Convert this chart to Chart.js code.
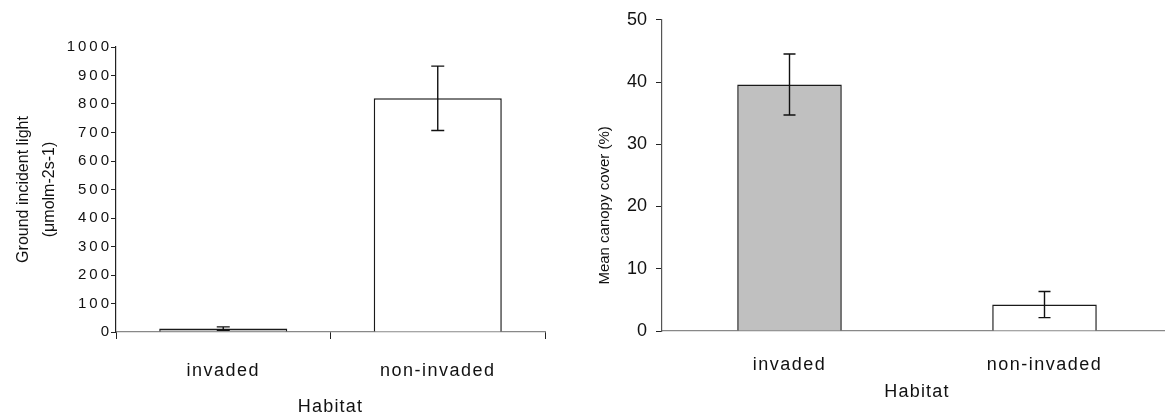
<!DOCTYPE html>
<html>
<head>
<meta charset="utf-8">
<script src="https://cdn.jsdelivr.net/npm/chart.js@4.4.1/dist/chart.umd.min.js"></script>
<style>
  html, body { margin: 0; padding: 0; background: #fff; overflow: hidden; }
  #wrap { position: relative; width: 1165px; height: 417px; overflow: hidden; }
  #lightBox { position: absolute; left: 0; top: 0; width: 565px; height: 417px; }
  #canopyBox { position: absolute; left: 565px; top: 0; width: 612px; height: 417px; }
</style>
</head>
<body>
<div id="wrap">
  <div id="lightBox"><canvas id="lightChart" width="565" height="417"></canvas></div>
  <div id="canopyBox"><canvas id="canopyChart" width="612" height="417"></canvas></div>
</div>
<script>
const habitats = ['invaded', 'non-invaded'];
const lightMean = [12, 820];
const lightErr = [6, 113];
const canopyMean = [39.6, 4.25];
const canopyErr = [4.9, 2.1];
const barFills = ['#c0c0c0', '#ffffff'];

const FONT = '"Liberation Sans", Arial, sans-serif';
Chart.defaults.font.family = FONT;
Chart.defaults.color = '#111';

// error bars drawn on top of the bars, from the scale
const errorBars = {
    id: 'errorBars',
    afterDatasetsDraw(chart, args, opts) {
        const ctx = chart.ctx;
        const y = chart.scales.y;
        const meta = chart.getDatasetMeta(0);
        const vals = chart.data.datasets[0].data;
        ctx.save();
        ctx.strokeStyle = '#111';
        ctx.lineWidth = 1.4;
        meta.data.forEach((bar, i) => {
            const hi = y.getPixelForValue(vals[i] + opts.err[i]);
            const lo = y.getPixelForValue(vals[i] - opts.err[i]);
            const x = bar.x, w = opts.cap;
            ctx.beginPath();
            ctx.moveTo(x, hi); ctx.lineTo(x, lo);
            ctx.moveTo(x - w, hi); ctx.lineTo(x + w, hi);
            ctx.moveTo(x - w, lo); ctx.lineTo(x + w, lo);
            ctx.stroke();
        });
        ctx.restore();
    }
};

// the original sets some of its text wider than plain Arial,
// and its canopy axis title sits a little below centre
function withSpacing(fn, px, dy) {
    return function (area) {
        this.ctx.save();
        this.ctx.letterSpacing = (px || 0) + 'px';
        if (dy) this.ctx.translate(0, dy);
        fn.call(this, area);
        this.ctx.restore();
    };
}
const spacedText = {
    id: 'spacedText',
    beforeDraw(chart, args, opts) {
        Object.keys(opts).forEach(key => {
            if (key.startsWith('_')) return;
            const s = chart.scales[key];
            if (!s || s._spaced) return;
            const o = opts[key];
            if (o.labels) s.drawLabels = withSpacing(s.drawLabels, o.labels, 0);
            if (o.title || o.titleShift) s.drawTitle = withSpacing(s.drawTitle, o.title, o.titleShift);
            s._spaced = true;
        });
    }
};

new Chart(document.getElementById('lightChart'), {
    type: 'bar',
    data: {
        labels: habitats,
        datasets: [{
            data: lightMean,
            backgroundColor: barFills,
            borderColor: '#1a1a1a',
            borderWidth: 1.5,
            categoryPercentage: 1,
            barPercentage: 0.597
        }]
    },
    plugins: [errorBars, spacedText],
    options: {
        responsive: false, animation: false,
        layout: { padding: { top: 47, right: 20, left: 0, bottom: 0 } },
        plugins: {
            legend: { display: false }, tooltip: { enabled: false },
            errorBars: { err: lightErr, cap: 6.5 },
            spacedText: { y: { labels: 3 }, x: { labels: 1.5, title: 1.2 } }
        },
        scales: {
            x: {
                afterFit(s) { s.height = 85; },
                grid: { offset: true, drawOnChartArea: false, tickLength: 7, color: '#222' },
                border: { color: '#888', width: 1.2 },
                ticks: { font: { size: 18 }, padding: 21, color: '#111' },
                title: { display: true, text: 'Habitat', font: { size: 18, lineHeight: 1 }, padding: { top: 0, bottom: 1 }, color: '#111' }
            },
            y: {
                min: 0, max: 1000,
                afterFit(s) { s.width = 116; },
                grid: { drawOnChartArea: false, tickLength: 5, color: '#222' },
                border: { color: '#222', width: 1.2 },
                ticks: { stepSize: 100, font: { size: 15 }, padding: -1, color: '#111', callback: v => String(v) },
                title: {
                    display: true, text: ['Ground incident light', '(μmolm-2s-1)'],
                    font: { size: 16, lineHeight: 1.6 }, padding: { top: 11, bottom: 0 }, color: '#111'
                }
            }
        }
    }
});

new Chart(document.getElementById('canopyChart'), {
    type: 'bar',
    data: {
        labels: habitats,
        datasets: [{
            data: canopyMean,
            backgroundColor: barFills,
            borderColor: '#1a1a1a',
            borderWidth: 1.5,
            categoryPercentage: 1,
            barPercentage: 0.41
        }]
    },
    plugins: [errorBars, spacedText],
    options: {
        responsive: false, animation: false,
        layout: { padding: { top: 15, right: 5, left: 0, bottom: 0 } },
        plugins: {
            legend: { display: false }, tooltip: { enabled: false },
            errorBars: { err: canopyErr, cap: 6 },
            spacedText: { x: { labels: 1.5, title: 1.2 }, y: { titleShift: 30 } }
        },
        scales: {
            x: {
                afterFit(s) { s.height = 86; },
                grid: { display: false },
                border: { color: '#888', width: 1.2 },
                ticks: { font: { size: 18 }, padding: 15, color: '#111' },
                title: { display: true, text: 'Habitat', font: { size: 18, lineHeight: 1 }, padding: { top: 0, bottom: 16 }, color: '#111' }
            },
            y: {
                min: 0, max: 50,
                afterFit(s) { s.width = 97; },
                grid: { drawOnChartArea: false, tickLength: 6, color: '#222' },
                border: { color: '#555', width: 1.2 },
                ticks: { stepSize: 10, font: { size: 18 }, padding: 9, color: '#111' },
                title: {
                    display: true, text: 'Mean canopy cover (%)',
                    font: { size: 15, lineHeight: 1.2 }, padding: { top: 31, bottom: 0 }, color: '#111'
                }
            }
        }
    }
});
</script>
</body>
</html>
